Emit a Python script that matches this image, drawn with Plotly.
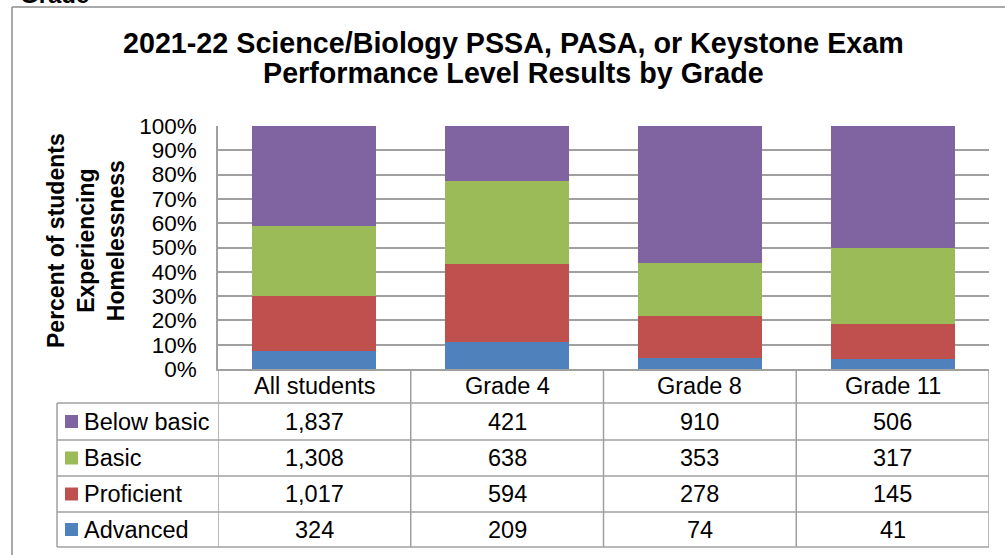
import plotly.graph_objects as go

# ---- data ----
categories = ["All students", "Grade 4", "Grade 8", "Grade 11"]
levels = ["Below basic", "Basic", "Proficient", "Advanced"]
below_basic = [1837, 421, 910, 506]
basic = [1308, 638, 353, 317]
proficient = [1017, 594, 278, 145]
advanced = [324, 209, 74, 41]
y_tick_vals = [0, 10, 20, 30, 40, 50, 60, 70, 80, 90, 100]
title_lines = ["2021-22 Science/Biology PSSA, PASA, or Keystone Exam",
               "Performance Level Results by Grade"]
y_title = "Percent of students<br>Experiencing<br>Homelessness"

series = {"Below basic": below_basic, "Basic": basic,
          "Proficient": proficient, "Advanced": advanced}
colors = {"Below basic": "#8064A2", "Basic": "#9BBB59",
          "Proficient": "#C0504D", "Advanced": "#4F81BD"}

FONT = "Liberation Sans, Arial, sans-serif"
W, H = 1005, 555
PL, PT, PR, PB = 218, 126, 989, 369  # plot area in pixels
GRID = "#A0A0A0"


def px(x):
    return (x - PL) / (PR - PL)


def py(y):
    return (PB - y) / (PB - PT)


fig = go.Figure()
for lvl in ["Advanced", "Proficient", "Basic", "Below basic"]:
    fig.add_trace(go.Bar(
        x=categories, y=series[lvl], name=lvl,
        marker=dict(color=colors[lvl], line=dict(width=0)),
        width=0.643, showlegend=False,
    ))

shapes = []
annotations = []

# outer chart border (left and top)
shapes.append(dict(type="line", xref="paper", yref="paper",
                   x0=px(12), x1=px(12), y0=py(7), y1=py(560),
                   line=dict(color="#8C8C8C", width=1.5)))
shapes.append(dict(type="line", xref="paper", yref="paper",
                   x0=px(12), x1=px(1010), y0=py(7), y1=py(7),
                   line=dict(color="#8C8C8C", width=1.5)))

# data table geometry (pixels)
row_edges = [403, 440, 476, 512, 547]
header_top = PB
left_col = 57

# horizontal table lines
for ry in row_edges:
    shapes.append(dict(type="line", xref="paper", yref="paper",
                       x0=px(left_col), x1=1, y0=py(ry), y1=py(ry),
                       line=dict(color=GRID, width=1.5)))
# vertical column lines
for k in range(len(categories) + 1):
    shapes.append(dict(type="line", xref="x", yref="paper",
                       x0=k - 0.5, x1=k - 0.5, y0=py(header_top), y1=py(row_edges[-1]),
                       line=dict(color=GRID, width=1.5)))
shapes.append(dict(type="line", xref="paper", yref="paper",
                   x0=px(left_col), x1=px(left_col), y0=py(row_edges[0]), y1=py(row_edges[-1]),
                   line=dict(color=GRID, width=1.5)))

TS = 23.5
# header labels
for c in categories:
    annotations.append(dict(x=c, y=py((header_top + row_edges[0]) / 2), xref="x", yref="paper",
                            text=c, showarrow=False, xanchor="center", yanchor="middle",
                            font=dict(family=FONT, size=TS, color="#000000")))

# table rows
for i, lvl in enumerate(levels):
    yc = py((row_edges[i] + row_edges[i + 1]) / 2)
    # legend key
    shapes.append(dict(type="rect", xref="paper", yref="paper",
                       x0=px(65), x1=px(78), y0=yc - 6.5 / (PB - PT), y1=yc + 6.5 / (PB - PT),
                       fillcolor=colors[lvl], line=dict(width=0)))
    annotations.append(dict(x=px(82), y=yc, xref="paper", yref="paper", text=lvl,
                            showarrow=False, xanchor="left", yanchor="middle",
                            font=dict(family=FONT, size=TS, color="#000000")))
    for c, v in zip(categories, series[lvl]):
        annotations.append(dict(x=c, y=yc, xref="x", yref="paper", text=f"{v:,}",
                                showarrow=False, xanchor="center", yanchor="middle",
                                font=dict(family=FONT, size=TS, color="#000000")))

# title
for line, yc in zip(title_lines, [43, 73]):
    annotations.append(dict(x=px(513), y=py(yc), xref="paper", yref="paper",
                            text=f"<b>{line}</b>", showarrow=False,
                            xanchor="center", yanchor="middle",
                            font=dict(family=FONT, size=28.7, color="#000000")))

# y-axis title
annotations.append(dict(x=px(86), y=py(241), xref="paper", yref="paper",
                        text=f"<b>{y_title}</b>", showarrow=False, textangle=-90,
                        xanchor="center", yanchor="middle",
                        font=dict(family=FONT, size=23, color="#000000")))

# cut-off heading at the very top
annotations.append(dict(x=px(18), y=py(10), xref="paper", yref="paper",
                        text="<b>Grade</b>", showarrow=False,
                        xanchor="left", yanchor="bottom",
                        font=dict(family=FONT, size=24, color="#000000")))

fig.update_layout(
    width=W, height=H,
    margin=dict(l=PL, r=W - PR, t=PT, b=H - PB, pad=0),
    paper_bgcolor="white", plot_bgcolor="white",
    barmode="stack", barnorm="percent",
    bargap=0.357,
    shapes=shapes, annotations=annotations,
    font=dict(family=FONT, color="#000000"),
)
fig.update_xaxes(range=[-0.5, len(categories) - 0.5], showticklabels=False,
                 showgrid=False, showline=True, linecolor=GRID, linewidth=1.5,
                 ticks="", zeroline=False, fixedrange=True)
fig.update_yaxes(range=[0, 100], tickvals=y_tick_vals,
                 ticktext=[f"{v}%" for v in y_tick_vals],
                 showgrid=True, gridcolor=GRID, gridwidth=1.5,
                 showline=True, linecolor=GRID, linewidth=1.5,
                 ticks="", ticklabelstandoff=15, zeroline=False,
                 tickfont=dict(family=FONT, size=22.5, color="#000000"))

fig.write_html("out.html", config={"displayModeBar": False},
               post_script="document.body.style.margin='0';document.body.style.overflow='hidden';")
